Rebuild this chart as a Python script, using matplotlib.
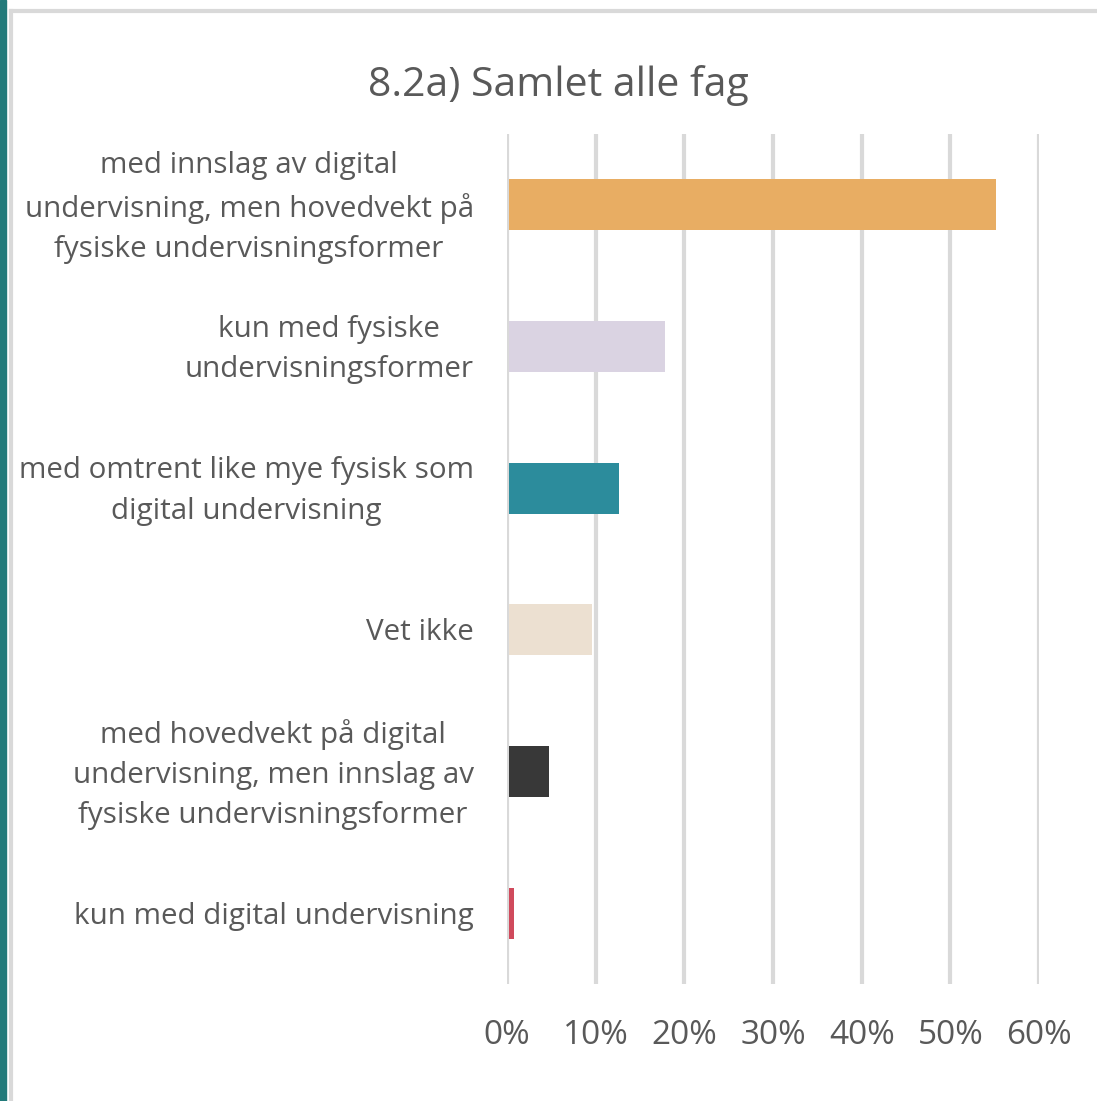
import matplotlib
matplotlib.use("Agg")
import matplotlib.pyplot as plt
import matplotlib.transforms as mtransforms
from matplotlib.patches import Rectangle
from matplotlib.lines import Line2D

categories = [
    "med innslag av digital\nundervisning, men hovedvekt på\nfysiske undervisningsformer",
    "kun med fysiske\nundervisningsformer",
    "med omtrent like mye fysisk som\ndigital undervisning",
    "Vet ikke",
    "med hovedvekt på digital\nundervisning, men innslag av\nfysiske undervisningsformer",
    "kun med digital undervisning",
]
values = [55.0, 17.6, 12.4, 9.4, 4.5, 0.6]
colors = ["#E8AD63", "#DAD3E2", "#2C8C9C", "#ECE0D1", "#383838", "#D04A5C"]
xticks = [0, 10, 20, 30, 40, 50, 60]
xticklabels = [f"{t}%" for t in xticks]
title = "8.2a) Samlet alle fag"

plt.rcParams['font.family'] = ['Open Sans', 'DejaVu Sans']
W, H = 1097, 1101
fig = plt.figure(figsize=(W / 100, H / 100), dpi=100)
fig.patch.set_facecolor("white")

# frame decorations
fig.add_artist(Rectangle((0, 0), 6 / W, 1, transform=fig.transFigure, color="#227A7A", zorder=0))
fig.add_artist(Line2D([11 / W, 1], [1 - 11 / H, 1 - 11 / H], transform=fig.transFigure, color="#D9D9D9", lw=3))
fig.add_artist(Line2D([11 / W, 11 / W], [0, 1 - 11 / H], transform=fig.transFigure, color="#D9D9D9", lw=3))

left, right = 507 / W, 1039 / W
top, bottom = 1 - 134 / H, 1 - 984 / H
ax = fig.add_axes([left, bottom, right - left, top - bottom])

ypos = list(range(len(categories)))
ax.barh(ypos, values, height=0.36, color=colors, left=0.2, zorder=3)
ax.set_ylim(len(categories) - 0.5, -0.5)
ax.set_xlim(0, 60)
ax.set_xticks(xticks)
ax.set_xticklabels(xticklabels, fontsize=24, color="#595959")
ax.set_yticks(ypos)
ax.set_yticklabels(categories, fontsize=21.3, color="#595959", linespacing=1.52)
ax.tick_params(axis="y", length=0, pad=24)
ax.tick_params(axis="x", length=0, pad=25)
shift = mtransforms.ScaledTranslation(0, -3 / 100, fig.dpi_scale_trans)
for lab in ax.get_yticklabels():
    lab.set_horizontalalignment("right")
    lab.set_verticalalignment("center")
    lab.set_multialignment("center")
    lab.set_transform(lab.get_transform() + shift)
ax.grid(axis="x", color="#D9D9D9", lw=3, zorder=0)
for s in ax.spines.values():
    s.set_visible(False)

fig.text(558 / W, 1 - 86 / H, title, ha="center", va="center", fontsize=29.5, color="#595959")

fig.savefig("out.png", dpi=100)
